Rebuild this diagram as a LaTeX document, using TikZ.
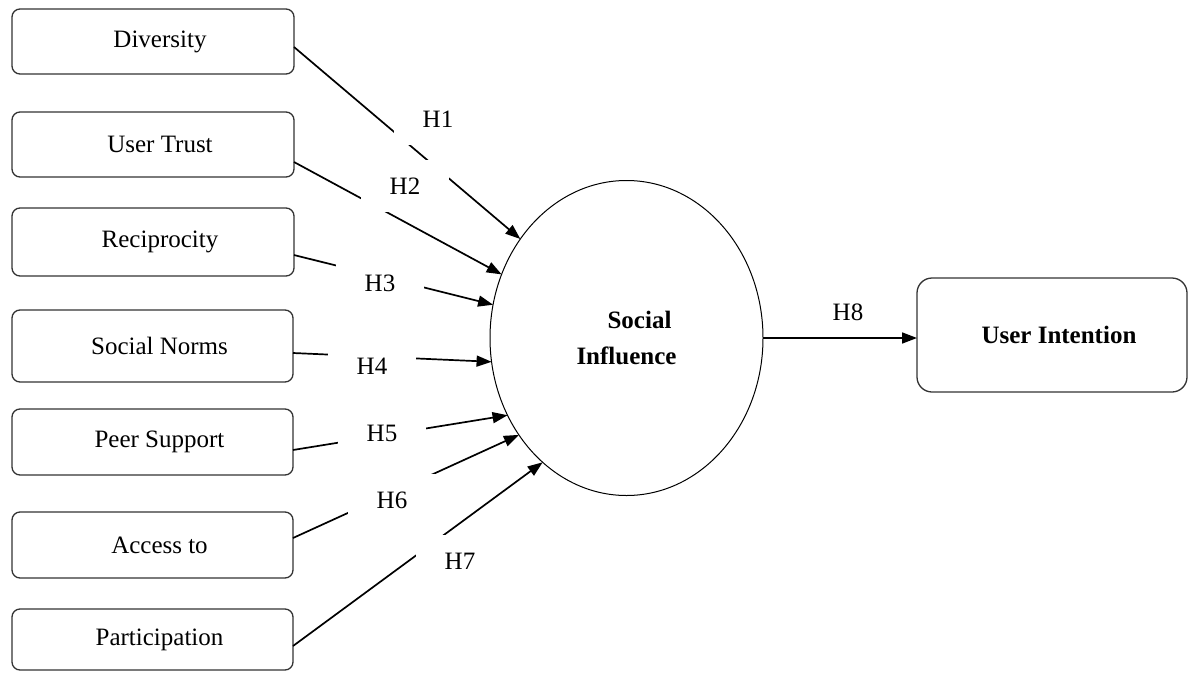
\documentclass[tikz,border=0pt]{standalone}
\usepackage{fontspec}
\setmainfont{Liberation Serif}
\usetikzlibrary{arrows.meta,shapes.geometric}
\tikzset{
  every node/.style={font=\fontsize{25}{30}\selectfont},
  var/.style={draw=black!80, line width=1.3pt, rounded corners=8pt, minimum width=282pt, inner sep=0pt, outer sep=0pt,
    execute at begin node={\hspace*{14pt}}},
  hyp/.style={fill=white, minimum width=88pt, minimum height=52pt, inner sep=0pt},
  arr/.style={line width=1.7pt, -{Triangle[length=15pt,width=11pt]}},
}
\begin{document}
\begin{tikzpicture}[x=1pt,y=-1pt]
\useasboundingbox (0,0) rectangle (1191,672);
% left boxes
\node[var, minimum height=65pt] (div) at (153,41.5) {Diversity};
\node[var, minimum height=65pt] (ut) at (153,144.5) {User Trust};
\node[var, minimum height=68pt] (rec) at (153,242) {Reciprocity};
\node[var, minimum height=72pt, minimum width=281pt] (sn) at (152.5,346) {Social Norms};
\node[var, minimum height=66pt, minimum width=281pt] (ps) at (152.5,442) {Peer Support};
\node[var, minimum height=66pt, minimum width=281pt] (acc) at (152.5,545) {Access to};
\node[var, minimum height=61pt, minimum width=281pt] (par) at (152.5,639.5) {Participation};
% central ellipse
\node[ellipse, draw=black, line width=1pt, minimum width=273pt, minimum height=315pt, inner sep=0pt, outer sep=0pt, align=center,
  font=\fontsize{25}{30}\selectfont\bfseries] (si) at (626.5,338) {\hspace*{26pt}Social\\[6pt]Influence};
% right box
\node[var, rounded corners=15pt, minimum width=270pt, minimum height=114pt, font=\fontsize{25}{30}\selectfont\bfseries] (ui) at (1052,335) {User Intention};
% connectors
\draw[arr] ([yshift=-5.5pt]div.east) -- (si.137.7);
\draw[arr] ([yshift=-17.5pt]ut.east) -- (si.153.7);
\draw[arr] ([yshift=-13pt]rec.east) -- (si.166.4);
\draw[arr] ([yshift=-7pt]sn.east) -- (si.190.9);
\draw[arr] ([yshift=-8pt]ps.east) -- (si.213.1);
\draw[arr] ([yshift=7pt]acc.east) -- (si.222.8);
\draw[arr] ([yshift=-6.5pt]par.east) -- (si.236.0);
\draw[arr] (si.east) -- (si.east -| ui.west);
% hypothesis labels
\node[hyp] (h1) at (438,119) {H1};
\node[hyp] (h2) at (405,186) {H2};
\node[hyp] (h3) at (380,283) {H3};
\node[hyp] (h4) at (372,366) {H4};
\node[hyp] (h5) at (382,433) {H5};
\node[hyp] (h6) at (392,500) {H6};
\node[hyp] (h7) at (460,561) {H7};
\node[hyp, minimum height=48pt] (h8) at (848,312) {H8};
\end{tikzpicture}
\end{document}
